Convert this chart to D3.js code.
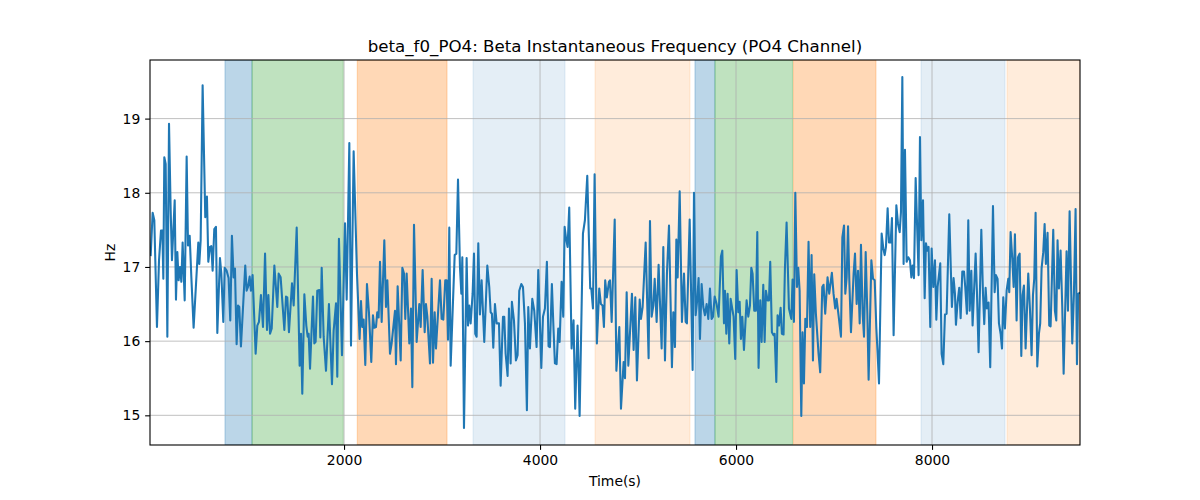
<!DOCTYPE html>
<html>
<head>
<meta charset="utf-8">
<script src="https://cdn.jsdelivr.net/npm/d3@7"></script>
<style>
  html, body { margin: 0; padding: 0; background: #fff; }
  svg { display: block; font-family: "DejaVu Sans", sans-serif; }
</style>
</head>
<body>
<svg id="chart" width="1200" height="500"></svg>
<script>
// ---- data ----
const titleText = "beta_f0_PO4: Beta Instantaneous Frequency (PO4 Channel)";
const xLabel = "Time(s)";
const yLabel = "Hz";
const xTicks = [2000, 4000, 6000, 8000];
const yTicks = [15, 16, 17, 18, 19];
const xDomain = [20, 9510];
const yDomain = [14.6, 19.79];

// shaded segments: [start, end], colour, opacity
const bandStart = [785, 1061, 2135, 3316, 4561, 5581, 5785, 6586, 7888, 8765];
const bandEnd   = [1061, 1992, 3051, 4255, 5530, 5785, 6576, 7428, 8745, 9510];
const bandColor = ["#1f77b4", "#2ca02c", "#ff7f0e", "#1f77b4", "#ff7f0e", "#1f77b4", "#2ca02c", "#ff7f0e", "#1f77b4", "#ff7f0e"];
const bandAlpha = [0.3, 0.3, 0.3, 0.12, 0.15, 0.3, 0.3, 0.3, 0.12, 0.15];

// beta instantaneous frequency series
const timeS = [
27,47,64,91,112,132,146,156,166,180,197,214,231,244,272,285,299,312,326,340,353,374,394,408,425,442,465,513,523,537,557,584,601,615,632,646,659,676,693,707,734,748,768,782,802,822,839,856,873,887,904,918,931,948,992,1006,1020,1037,1050,1067,1098,1115,1132,1152,1173,
1194,1214,1228,1245,1262,1289,1319,1333,1353,1391,1408,1421,1438,1469,1486,1517,1547,1561,1574,1595,1615,1629,1639,1653,1683,1697,1710,1727,1748,1758,1772,1792,1816,1846,1877,1894,1918,1931,1948,1979,2010,2027,2054,2071,2098,2132,2159,2173,2186,2200,2217,2234,2254,2278,2295,2309,2326,2339,2353,
2367,2384,2411,2428,2442,2469,2486,2520,2530,2547,2578,2595,2612,2625,2639,2666,2683,2697,2714,2741,2768,2782,2802,2823,2836,2850,2877,2894,2908,2925,2938,2979,2996,3013,3033,3047,3061,3074,3088,3129,3146,3163,3183,3197,3207,3224,3251,3265,3278,3292,3312,3326,3339,3353,3370,3387,3404,3431,3462,3482,3496,3509,3523,
3540,3557,3581,3598,3622,3635,3649,3669,3683,3700,3713,3734,3754,3771,3788,3809,3826,3846,3866,3880,3897,3921,3941,3965,3982,4013,4030,4050,4070,4087,4101,4121,4138,4152,4169,4186,4200,4220,4237,4251,4264,4281,4298,4322,4342,4359,4383,4404,4438,4458,4482,4512,4523,4540,4557,4580,4604,4621,4638,4652,4665,4682,4703,
4714,4731,4762,4779,4809,4826,4853,4867,4884,4901,4938,4955,4972,4989,5017,5030,5047,5078,5108,5122,5139,5156,5170,5190,5210,5241,5258,5275,5295,5316,5346,5360,5377,5391,5404,5425,5448,5469,5486,5499,5527,5557,5571,5588,5605,5618,5632,5649,5666,5683,5700,5717,5734,5751,5765,5782,5802,5822,5846,5860,5877,
5887,5901,5914,5931,5945,5975,5992,6006,6023,6037,6050,6064,6081,6108,6125,6142,6156,6169,6186,6203,6217,6230,6247,6261,6278,6292,6305,6322,6336,6349,6366,6383,6394,6411,6424,6438,6455,6468,6485,6499,6516,6540,6564,6577,6591,6605,6622,6635,6649,6666,6679,6693,6707,6724,6740,6757,6771,6785,6798,6815,6842,6859,6880,6893,6910,6934,6951,6978,6995,7012,7026,7046,
7071,7085,7102,7115,7129,7143,7156,7173,7200,7214,7231,7245,7262,7275,7292,7306,7323,7340,7353,7381,7398,7415,7432,7445,7459,7486,7503,7517,7530,7547,7561,7578,7591,7608,7636,7653,7670,7683,7697,7710,7724,7741,7758,7775,7789,7802,7816,7833,7863,7877,7891,7908,7925,7938,7952,7965,7982,7996,8013,8030,8044,8057,8084,8098,8115,8132,8149,8176,8203,8220,
8234,8244,8261,8278,8292,8309,8326,8339,8356,8370,8384,8401,8414,8445,8458,8475,8503,8520,8533,8547,8560,8577,8594,8622,8639,8652,8669,8683,8700,8714,8727,8744,8761,8778,8788,8802,8819,8833,8846,8863,8877,8894,8911,8924,8938,8955,8982,8999,9016,9030,9043,9057,9074,9091,9104,9118,9135,9149,9162,9179,9196,9210,9237,9254,9268,9281,9295,9312,9329,9343,9373,9387,9404,9431,9448,9465,9479,9492,9509
];
const freqHz = [
17.16,17.73,17.63,16.19,17.09,17.49,17.49,16.84,18.48,18.39,16.06,18.93,17.76,17.09,17.9,16.56,17.2,16.82,17.0,16.8,17.33,16.55,18.49,17.29,17.42,16.86,16.18,17.33,17.04,17.36,19.45,17.67,17.95,17.07,17.27,17.28,16.95,17.51,17.54,16.11,17.12,16.91,16.26,16.99,16.95,16.85,16.28,17.42,16.86,16.98,15.96,16.48,16.46,15.93,17.02,16.68,16.73,16.87,16.68,16.89,15.83,16.21,16.26,16.62,16.19,
17.18,16.15,16.62,16.1,16.17,17.02,16.46,16.91,16.86,16.15,16.6,16.59,16.12,16.78,16.48,17.53,15.67,16.1,15.29,16.63,16.21,16.06,16.1,15.63,16.6,15.97,15.99,16.68,16.69,16.05,16.99,16.06,15.6,16.5,15.42,16.14,16.51,15.52,17.38,15.81,17.59,16.56,18.67,15.94,18.56,16.91,16.03,16.54,16.19,16.29,15.68,16.77,16.39,15.72,16.35,16.18,16.19,16.39,16.32,
17.07,16.26,17.36,16.46,16.82,15.83,15.97,16.41,15.69,16.74,15.74,16.99,16.91,16.3,16.91,15.97,16.44,15.38,17.57,15.99,16.5,16.19,16.96,16.12,16.5,16.33,15.7,16.84,15.71,16.39,15.9,16.82,16.3,16.29,16.82,16.82,16.02,17.53,15.67,17.16,17.18,18.18,17.0,16.64,17.13,14.83,17.12,16.21,16.48,16.24,16.64,17.18,16.1,16.06,17.32,16.36,16.82,15.99,17.02,16.73,16.39,16.37,15.91,
16.5,16.24,16.24,15.4,16.33,16.33,15.83,15.53,16.44,15.7,16.53,16.28,15.74,15.81,16.68,16.77,16.73,16.24,15.07,16.46,15.9,16.57,16.41,15.92,16.96,15.64,16.33,16.44,17.07,15.93,15.92,16.77,16.15,15.7,15.69,16.17,15.99,16.8,16.33,17.54,17.4,17.27,17.8,15.9,16.28,15.09,16.21,14.99,17.45,17.63,18.23,16.71,16.71,16.44,18.25,15.97,16.71,16.5,16.48,16.19,16.82,16.59,16.8,
16.82,16.26,17.64,15.6,16.19,15.09,15.72,15.5,16.66,15.67,16.64,15.88,16.59,15.47,16.56,16.3,16.46,17.33,15.77,17.62,16.33,16.48,16.84,16.26,17.03,15.9,17.27,15.74,16.91,17.56,15.65,16.39,15.92,17.37,16.86,18.02,16.26,16.91,16.26,16.24,17.64,15.61,18.0,16.35,16.57,16.85,16.03,16.77,16.46,16.35,16.5,16.3,16.71,16.3,16.33,16.6,16.5,16.33,17.14,17.22,16.24,
16.68,16.1,16.64,15.97,16.57,16.33,15.76,16.96,16.39,16.53,16.03,16.33,15.88,16.55,16.33,16.48,16.99,16.91,16.41,16.41,17.47,15.64,16.55,15.99,16.76,15.99,16.68,16.55,16.55,17.07,16.12,16.08,16.1,15.45,16.35,16.21,16.45,16.1,16.09,16.98,17.6,16.44,16.3,16.83,16.26,18.0,16.73,16.99,16.68,14.99,16.12,15.43,16.3,16.19,17.34,16.19,17.16,15.74,16.9,16.37,15.83,15.58,16.73,16.76,16.37,16.86,16.64,16.92,16.64,16.44,16.57,16.35,
16.06,17.4,17.56,16.64,16.86,17.55,16.82,16.12,16.91,17.18,16.5,16.95,16.24,17.3,16.37,16.06,17.2,16.37,15.48,17.09,16.84,16.82,16.17,15.83,15.43,17.45,17.25,17.16,17.27,17.79,17.33,17.33,17.66,16.08,17.83,17.58,17.47,17.74,19.56,17.04,18.58,17.07,17.13,17.09,16.86,17.02,16.85,18.2,16.89,18.75,17.36,17.9,16.58,17.32,17.22,17.27,16.19,17.25,16.73,17.09,16.29,16.73,17.05,15.83,15.69,16.36,16.37,17.71,16.46,16.85,
16.64,16.22,16.53,16.72,16.31,16.94,16.94,16.73,16.37,17.63,16.41,16.95,16.21,17.18,16.68,15.85,17.5,16.64,16.23,16.72,16.44,16.52,15.65,17.82,16.66,16.89,16.84,16.24,16.1,15.9,16.59,16.17,16.68,16.84,16.66,17.47,17.11,16.73,17.44,16.28,17.13,17.18,15.8,16.62,16.75,15.9,16.91,16.44,15.81,16.62,16.84,17.73,15.66,16.1,16.24,16.98,17.2,17.58,17.04,17.46,16.21,16.2,17.5,16.41,16.28,17.36,16.71,17.22,16.46,15.56,17.21,16.41,17.75,15.97,16.64,17.78,15.69,16.64,16.65
];

// ---- layout ----
const W = 1200, H = 500;
const margin = { left: 150, right: 120, top: 60, bottom: 55 };
const iw = W - margin.left - margin.right;
const ih = H - margin.top - margin.bottom;

const svg = d3.select("#chart");
const g = svg.append("g").attr("transform", `translate(${margin.left},${margin.top})`);

const x = d3.scaleLinear().domain(xDomain).range([0, iw]);
const y = d3.scaleLinear().domain(yDomain).range([ih, 0]);

g.append("defs").append("clipPath").attr("id", "clip")
  .append("rect").attr("width", iw).attr("height", ih);

// bands
const bands = bandStart.map((s, i) => ({ s, e: bandEnd[i], c: bandColor[i], a: bandAlpha[i] }));
g.append("g").attr("clip-path", "url(#clip)")
  .selectAll("rect").data(bands).join("rect")
  .attr("x", d => x(d.s))
  .attr("width", d => x(d.e) - x(d.s))
  .attr("y", 0).attr("height", ih)
  .attr("fill", d => d.c).attr("fill-opacity", d => d.a)
  .attr("stroke", d => d.c).attr("stroke-opacity", d => d.a).attr("stroke-width", 1);

// grid
const grid = g.append("g");
grid.selectAll(".gx").data(xTicks).join("line")
  .attr("x1", d => x(d)).attr("x2", d => x(d))
  .attr("y1", 0).attr("y2", ih)
  .attr("stroke", "#b0b0b0").attr("stroke-width", 0.8);
grid.selectAll(".gy").data(yTicks).join("line")
  .attr("y1", d => y(d)).attr("y2", d => y(d))
  .attr("x1", 0).attr("x2", iw)
  .attr("stroke", "#b0b0b0").attr("stroke-width", 0.8);

// line
const pts = timeS.map((t, i) => [t, freqHz[i]]);
g.append("path").attr("clip-path", "url(#clip)")
  .datum(pts)
  .attr("fill", "none")
  .attr("stroke", "#1f77b4")
  .attr("stroke-width", 2.08)
  .attr("stroke-linejoin", "round")
  .attr("stroke-linecap", "square")
  .attr("d", d3.line().x(d => x(d[0])).y(d => y(d[1])));

// axes
const xAxis = d3.axisBottom(x).tickValues(xTicks).tickFormat(d3.format("d")).tickSize(4.86).tickPadding(4.86);
const yAxis = d3.axisLeft(y).tickValues(yTicks).tickFormat(d3.format("d")).tickSize(4.86).tickPadding(4.86);

const gx = g.append("g").attr("transform", `translate(0,${ih})`).call(xAxis);
const gy = g.append("g").call(yAxis);
[gx, gy].forEach(a => {
  a.select(".domain").remove();
  a.selectAll(".tick line").attr("stroke", "#000").attr("stroke-width", 1.1);
  a.selectAll(".tick text").attr("fill", "#000").style("font-size", "13.9px").style("font-family", "DejaVu Sans, sans-serif");
});

// frame
g.append("rect").attr("width", iw).attr("height", ih)
  .attr("fill", "none").attr("stroke", "#000").attr("stroke-width", 1.1);

// labels
svg.append("text").attr("x", margin.left + iw / 2).attr("y", 52)
  .attr("text-anchor", "middle").style("font-size", "16.67px").attr("fill", "#000")
  .text(titleText);
svg.append("text").attr("x", margin.left + iw / 2).attr("y", 486)
  .attr("text-anchor", "middle").style("font-size", "13.9px").attr("fill", "#000")
  .text(xLabel);
svg.append("text").attr("transform", `translate(115,${margin.top + ih / 2}) rotate(-90)`)
  .attr("text-anchor", "middle").style("font-size", "13.9px").attr("fill", "#000")
  .text(yLabel);
</script>
</body>
</html>
